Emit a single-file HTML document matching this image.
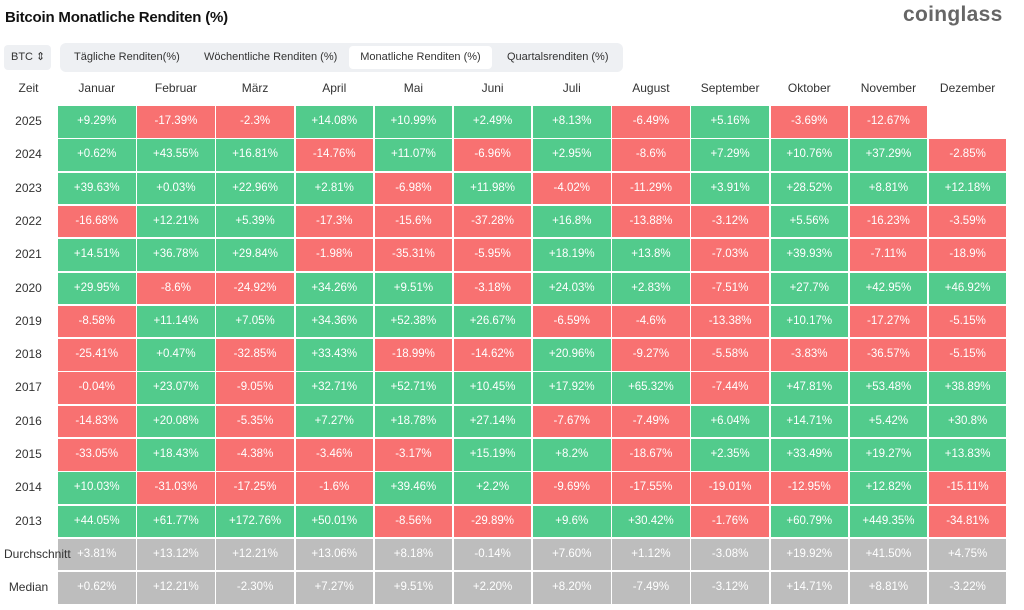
<!DOCTYPE html>
<html><head><meta charset="utf-8"><style>
*{margin:0;padding:0;box-sizing:border-box}
body{width:1024px;height:610px;background:#fff;font-family:"Liberation Sans","DejaVu Sans",sans-serif;position:relative;overflow:hidden;color:#333}
.t{position:absolute;left:5px;top:9px;font-size:15px;font-weight:bold;color:#111;letter-spacing:-0.2px}
.logo{position:absolute;left:903px;top:3px;font-size:21px;font-weight:bold;color:#666;letter-spacing:0.3px}
.btc{position:absolute;left:4px;top:45px;width:47px;height:25px;background:#eef0f3;border-radius:4px;font-size:11px;line-height:25px;padding-left:7px;color:#333}
.tabs{position:absolute;left:60px;top:43px;width:563px;height:29px;background:#eef0f3;border-radius:6px}
.tab{position:absolute;top:3px;height:23px;line-height:23px;font-size:11px;color:#333;border-radius:4px}
.act{background:#fff}
.h{position:absolute;top:81px;font-size:12px;color:#333;text-align:center}
.c{position:absolute;height:31.5px;line-height:31.5px;text-align:center;color:#fff;font-size:11.5px;width:77.5px}
.g{background:#52cb8c}.r{background:#f87171}.n{background:#bdbdbd}
.y{position:absolute;left:0;width:57px;text-align:center;font-size:12px;color:#333;height:31.5px;line-height:31.5px}
</style></head><body>
<div class="t">Bitcoin Monatliche Renditen (%)</div>
<div class="logo">coinglass</div>
<div class="btc">BTC ⇕</div>
<div class="tabs">
<div class="tab" style="left:14px">Tägliche Renditen(%)</div>
<div class="tab" style="left:144px">Wöchentliche Renditen (%)</div>
<div class="tab act" style="left:289px;width:143px;text-align:center">Monatliche Renditen (%)</div>
<div class="tab" style="left:447px">Quartalsrenditen (%)</div>
</div>
<div id="g"></div>
<script>
(function(){
var months=["Januar","Februar","März","April","Mai","Juni","Juli","August","September","Oktober","November","Dezember"];
var rows=[
["2025","+9.29%","-17.39%","-2.3%","+14.08%","+10.99%","+2.49%","+8.13%","-6.49%","+5.16%","-3.69%","-12.67%",""],
["2024","+0.62%","+43.55%","+16.81%","-14.76%","+11.07%","-6.96%","+2.95%","-8.6%","+7.29%","+10.76%","+37.29%","-2.85%"],
["2023","+39.63%","+0.03%","+22.96%","+2.81%","-6.98%","+11.98%","-4.02%","-11.29%","+3.91%","+28.52%","+8.81%","+12.18%"],
["2022","-16.68%","+12.21%","+5.39%","-17.3%","-15.6%","-37.28%","+16.8%","-13.88%","-3.12%","+5.56%","-16.23%","-3.59%"],
["2021","+14.51%","+36.78%","+29.84%","-1.98%","-35.31%","-5.95%","+18.19%","+13.8%","-7.03%","+39.93%","-7.11%","-18.9%"],
["2020","+29.95%","-8.6%","-24.92%","+34.26%","+9.51%","-3.18%","+24.03%","+2.83%","-7.51%","+27.7%","+42.95%","+46.92%"],
["2019","-8.58%","+11.14%","+7.05%","+34.36%","+52.38%","+26.67%","-6.59%","-4.6%","-13.38%","+10.17%","-17.27%","-5.15%"],
["2018","-25.41%","+0.47%","-32.85%","+33.43%","-18.99%","-14.62%","+20.96%","-9.27%","-5.58%","-3.83%","-36.57%","-5.15%"],
["2017","-0.04%","+23.07%","-9.05%","+32.71%","+52.71%","+10.45%","+17.92%","+65.32%","-7.44%","+47.81%","+53.48%","+38.89%"],
["2016","-14.83%","+20.08%","-5.35%","+7.27%","+18.78%","+27.14%","-7.67%","-7.49%","+6.04%","+14.71%","+5.42%","+30.8%"],
["2015","-33.05%","+18.43%","-4.38%","-3.46%","-3.17%","+15.19%","+8.2%","-18.67%","+2.35%","+33.49%","+19.27%","+13.83%"],
["2014","+10.03%","-31.03%","-17.25%","-1.6%","+39.46%","+2.2%","-9.69%","-17.55%","-19.01%","-12.95%","+12.82%","-15.11%"],
["2013","+44.05%","+61.77%","+172.76%","+50.01%","-8.56%","-29.89%","+9.6%","+30.42%","-1.76%","+60.79%","+449.35%","-34.81%"],
["Durchschnitt","+3.81%","+13.12%","+12.21%","+13.06%","+8.18%","-0.14%","+7.60%","+1.12%","-3.08%","+19.92%","+41.50%","+4.75%"],
["Median","+0.62%","+12.21%","-2.30%","+7.27%","+9.51%","+2.20%","+8.20%","-7.49%","-3.12%","+14.71%","+8.81%","-3.22%"]];
var h='<div class="h" style="left:0;width:57px">Zeit</div>';
for(var j=0;j<12;j++){h+='<div class="h" style="left:'+(58+j*79.17)+'px;width:77.5px">'+months[j]+'</div>';}
for(var i=0;i<rows.length;i++){var yy=106+i*33.3;var gr=i>=13;
h+='<div class="y" style="top:'+yy+'px'+(rows[i][0]=="Durchschnitt"?';text-align:left;left:4px;width:auto;z-index:2':'')+'">'+rows[i][0]+'</div>';
for(var j=0;j<12;j++){var v=rows[i][j+1];if(!v)continue;var cl=gr?'n':(v[0]=='-'?'r':'g');
h+='<div class="c '+cl+'" style="left:'+(58+j*79.17)+'px;top:'+yy+'px">'+v+'</div>';}}
document.getElementById('g').innerHTML=h;
})();
</script>
</body></html>
